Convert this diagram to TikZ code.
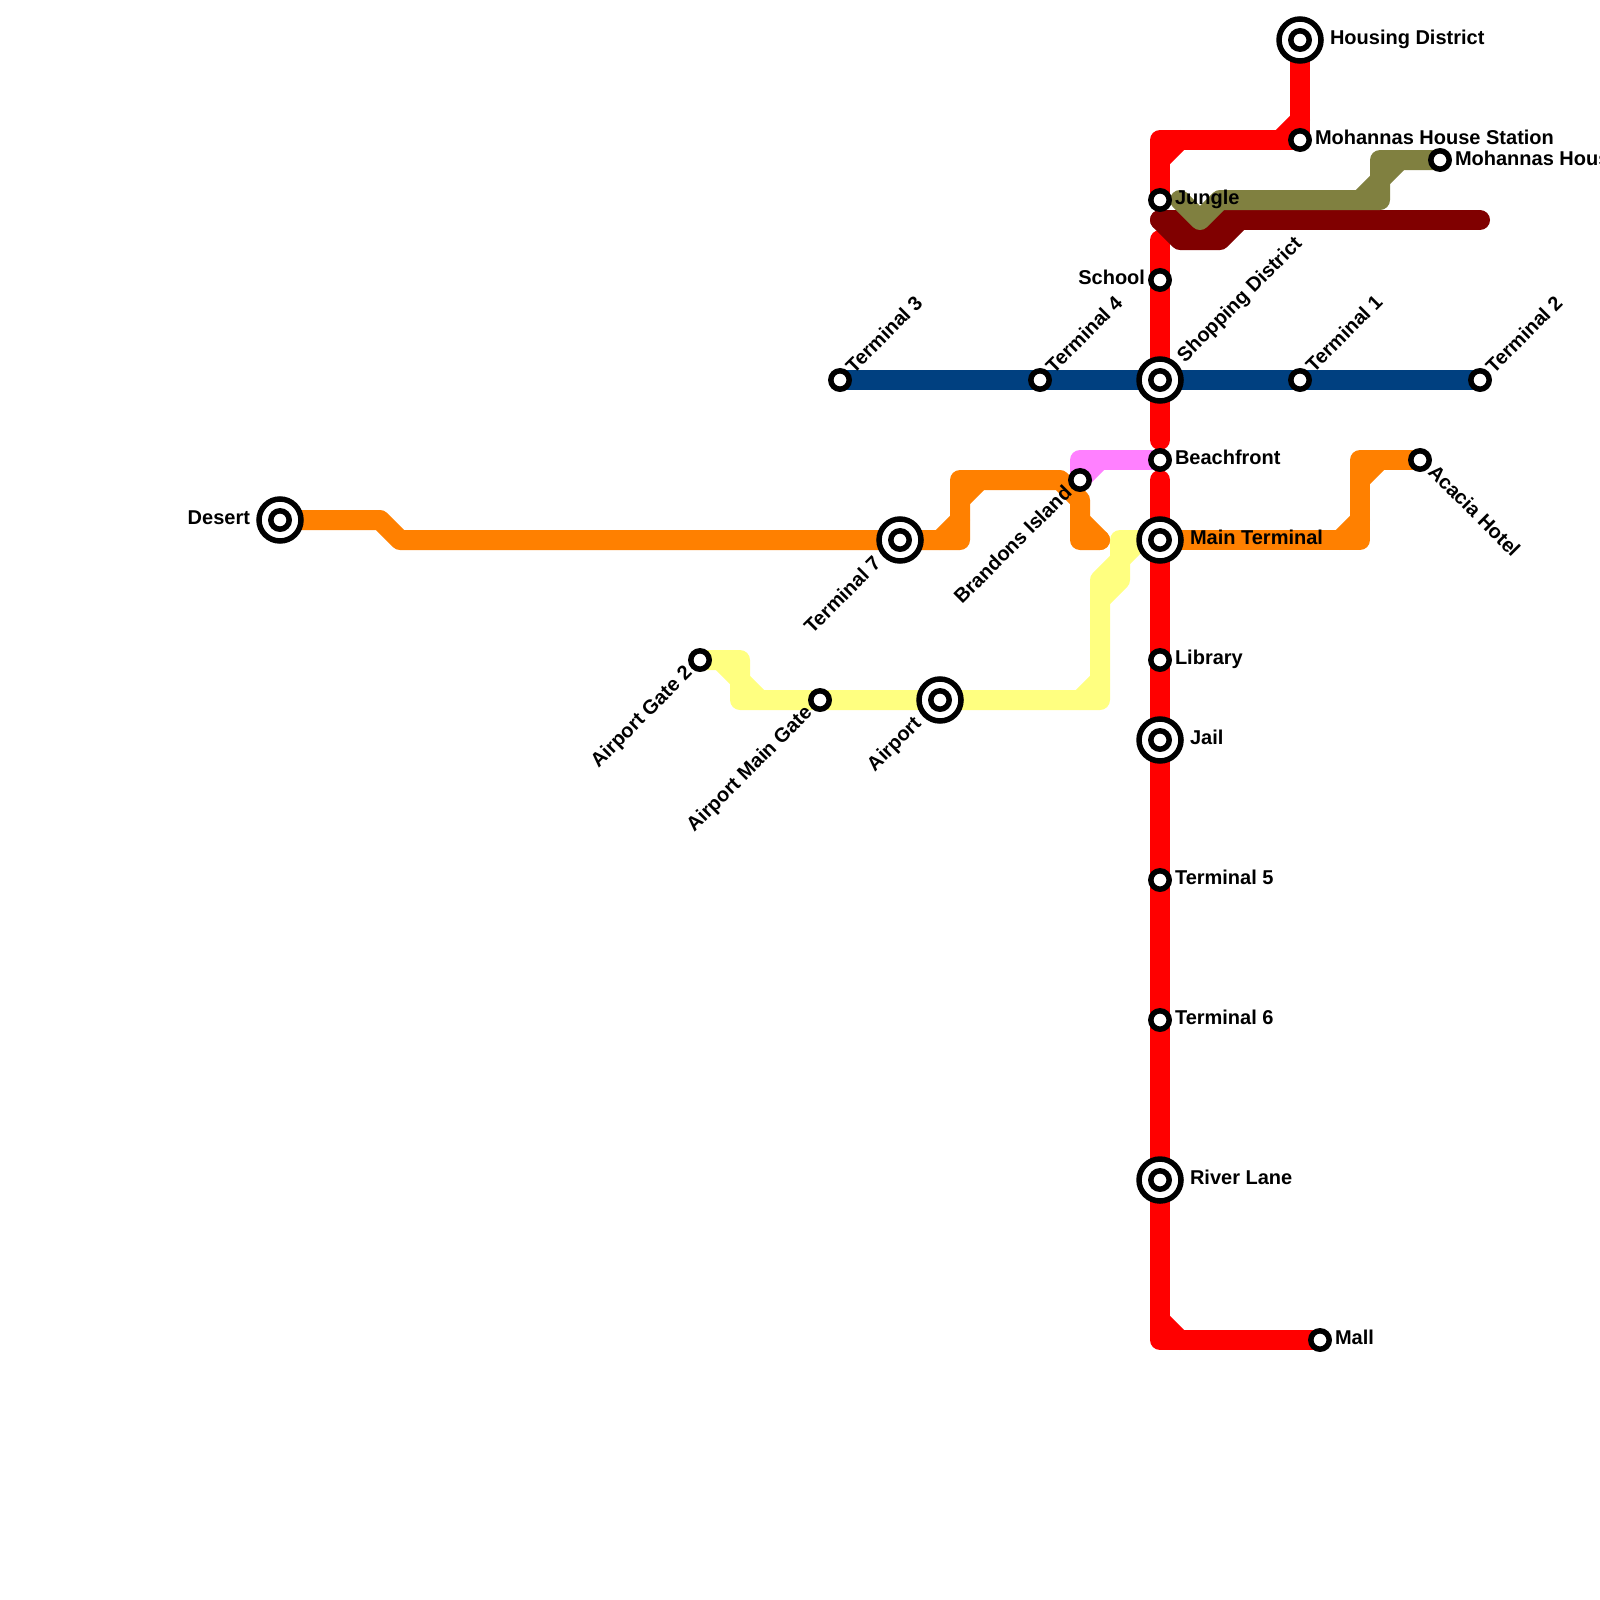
\documentclass[tikz,border=0pt]{standalone}
\usepackage{fontspec}
\setmainfont{Liberation Sans}
\usetikzlibrary{backgrounds}
\definecolor{lred}{HTML}{FF0000}
\definecolor{lorange}{HTML}{FF8000}
\definecolor{lyellow}{HTML}{FFFF80}
\definecolor{lpink}{HTML}{FF80FF}
\definecolor{lolive}{HTML}{808040}
\definecolor{lmaroon}{HTML}{800000}
\definecolor{lblue}{HTML}{004080}
\tikzset{
  metro/.style={line width=10pt,line cap=round,line join=round},
  smallst/.style={circle,draw=black,fill=white,line width=2.75pt,minimum size=9.2pt,inner sep=0pt,outer sep=0pt},
  bigst/.style={circle,draw=black,fill=white,line width=2.75pt,minimum size=21pt,inner sep=0pt,outer sep=0pt},
  lbl/.style={font=\bfseries\fontsize{10pt}{12pt}\selectfont,text=black,inner sep=0pt,outer sep=0pt},
  lr/.style={lbl,anchor=base west},
  ll/.style={lbl,anchor=base east}
}
\newcommand{\smallstation}[2]{\node[smallst] (#1) at (#2) {};}
\newcommand{\bigstation}[2]{\node[bigst] (#1) at (#2) {};\node[smallst] (#1-in) at (#2) {};}
\begin{document}
\begin{tikzpicture}[x=0.5pt,y=-0.5pt]
\useasboundingbox (0,0) rectangle (1600,1600);
% stations
\bigstation{housing}{1300,40}
\smallstation{mohannas}{1300,140}
\smallstation{mhouse}{1440,160}
\smallstation{jungle}{1160,200}
\smallstation{school}{1160,280}
\bigstation{shopping}{1160,380}
\smallstation{beach}{1160,460}
\bigstation{mainterm}{1160,540}
\smallstation{library}{1160,660}
\bigstation{jail}{1160,740}
\smallstation{tfive}{1160,880}
\smallstation{tsix}{1160,1020}
\bigstation{river}{1160,1180}
\smallstation{mall}{1320,1340}
\smallstation{tthree}{840,380}
\smallstation{tfour}{1040,380}
\smallstation{tone}{1300,380}
\smallstation{ttwo}{1480,380}
\bigstation{desert}{280,520}
\bigstation{tseven}{900,540}
\smallstation{brandons}{1080,480}
\smallstation{acacia}{1420,460}
\smallstation{gatetwo}{700,660}
\smallstation{maingate}{820,700}
\bigstation{airport}{940,700}
% labels
\node[lr] (l-housing) at ([shift={(30,5)}]housing.center) {Housing District};
\node[lr] (l-mohannas) at ([shift={(15,5)}]mohannas.center) {Mohannas House Station};
\node[lr] (l-mhouse) at ([shift={(15,5)}]mhouse.center) {Mohannas Hous};
\node[lr] (l-jungle) at ([shift={(15,4)}]jungle.center) {Jungle};
\node[ll] (l-school) at ([shift={(-15,4.5)}]school.center) {School};
\node[lr,rotate=45] (l-shopping) at ([shift={(25,-17)}]shopping.center) {Shopping District};
\node[lr] (l-beach) at ([shift={(15,4.5)}]beach.center) {Beachfront};
\node[lr] (l-main) at ([shift={(30,4.5)}]mainterm.center) {Main Terminal};
\node[lr] (l-library) at ([shift={(15,4.5)}]library.center) {Library};
\node[lr] (l-jail) at ([shift={(30,4.5)}]jail.center) {Jail};
\node[lr] (l-tfive) at ([shift={(15,4.5)}]tfive.center) {Terminal 5};
\node[lr] (l-tsix) at ([shift={(15,4.5)}]tsix.center) {Terminal 6};
\node[lr] (l-river) at ([shift={(30,4.5)}]river.center) {River Lane};
\node[lr] (l-mall) at ([shift={(15,4.5)}]mall.center) {Mall};
\node[lr,rotate=45] (l-tthree) at ([shift={(14,-6)}]tthree.center) {Terminal 3};
\node[lr,rotate=45] (l-tfour) at ([shift={(14,-6)}]tfour.center) {Terminal 4};
\node[lr,rotate=45] (l-tone) at ([shift={(14,-7)}]tone.center) {Terminal 1};
\node[lr,rotate=45] (l-ttwo) at ([shift={(14,-6)}]ttwo.center) {Terminal 2};
\node[ll] (l-desert) at ([shift={(-30,4.5)}]desert.center) {Desert};
\node[ll,rotate=45] (l-tseven) at ([shift={(-18,25)}]tseven.center) {Terminal 7};
\node[ll,rotate=45] (l-brandons) at ([shift={(-7,14)}]brandons.center) {Brandons Island};
\node[lr,rotate=-45] (l-acacia) at ([shift={(7,13)}]acacia.center) {Acacia Hotel};
\node[ll,rotate=45] (l-gatetwo) at ([shift={(-7,14)}]gatetwo.center) {Airport Gate 2};
\node[ll,rotate=45] (l-maingate) at ([shift={(-7,14)}]maingate.center) {Airport Main Gate};
\node[ll,rotate=45] (l-airport) at ([shift={(-18,25)}]airport.center) {Airport};
% lines
\begin{scope}[on background layer]
\fill[white] (0,0) rectangle (1600,1600);
% red
\draw[metro,lred] (jungle.center) -- (1160,140) -- (mohannas.center);
\draw[metro,lred] (mohannas.center) -- (housing.center);
\draw[metro,lred] (1160,160) -- (1180,140);
\draw[metro,lred] (1280,140) -- (1300,120);
\draw[metro,lred] (1160,240) -- (school.center) -- (shopping.center) -- (1160,440);
\draw[metro,lred] (1160,480) -- (mainterm.center) -- (library.center) -- (jail.center) -- (tfive.center) -- (tsix.center) -- (river.center) -- (1160,1340) -- (mall.center);
\draw[metro,lred] (1160,1320) -- (1180,1340);
% yellow
\draw[metro,lyellow] (gatetwo.center) -- (740,660) -- (740,700) -- (maingate.center) -- (airport.center) -- (1100,700) -- (1100,580) -- (1120,560) -- (1120,540) -- (mainterm.center);
\draw[metro,lyellow] (720,660) -- (760,700);
\draw[metro,lyellow] (1080,700) -- (1100,680);
\draw[metro,lyellow] (1100,600) -- (1120,580) -- (1120,560);
\draw[metro,lyellow] (1120,560) -- (1140,540);
% orange
\draw[metro,lorange] (desert.center) -- (380,520) -- (400,540) -- (tseven.center) -- (960,540) -- (960,480) -- (1060,480) -- (1080,500) -- (1080,540) -- (1100,540);
\draw[metro,lorange] (940,540) -- (960,520);
\draw[metro,lorange] (960,500) -- (980,480);
\draw[metro,lorange] (1080,520) -- (1100,540);
\draw[metro,lorange] (mainterm.center) -- (1360,540) -- (1360,460) -- (acacia.center);
\draw[metro,lorange] (1340,540) -- (1360,520);
\draw[metro,lorange] (1360,480) -- (1380,460);
% pink
\draw[metro,lpink] (beach.center) -- (1080,460) -- (brandons.center);
\draw[metro,lpink] (brandons.center) -- (1100,460);
% blue
\draw[metro,lblue] (tthree.center) -- (tfour.center) -- (shopping.center) -- (tone.center) -- (ttwo.center);
% maroon
\draw[metro,lmaroon] (1160,220) -- (1480,220);
\draw[metro,lmaroon] (1160,220) -- (1180,240) -- (1220,240) -- (1240,220);
% olive
\draw[metro,lolive] (1180,200) -- (1200,220) -- (1220,200) -- (1380,200) -- (1380,160) -- (mhouse.center);
\draw[metro,lolive] (1360,200) -- (1380,180);
\draw[metro,lolive] (1380,180) -- (1400,160);
\end{scope}
\end{tikzpicture}
\end{document}
